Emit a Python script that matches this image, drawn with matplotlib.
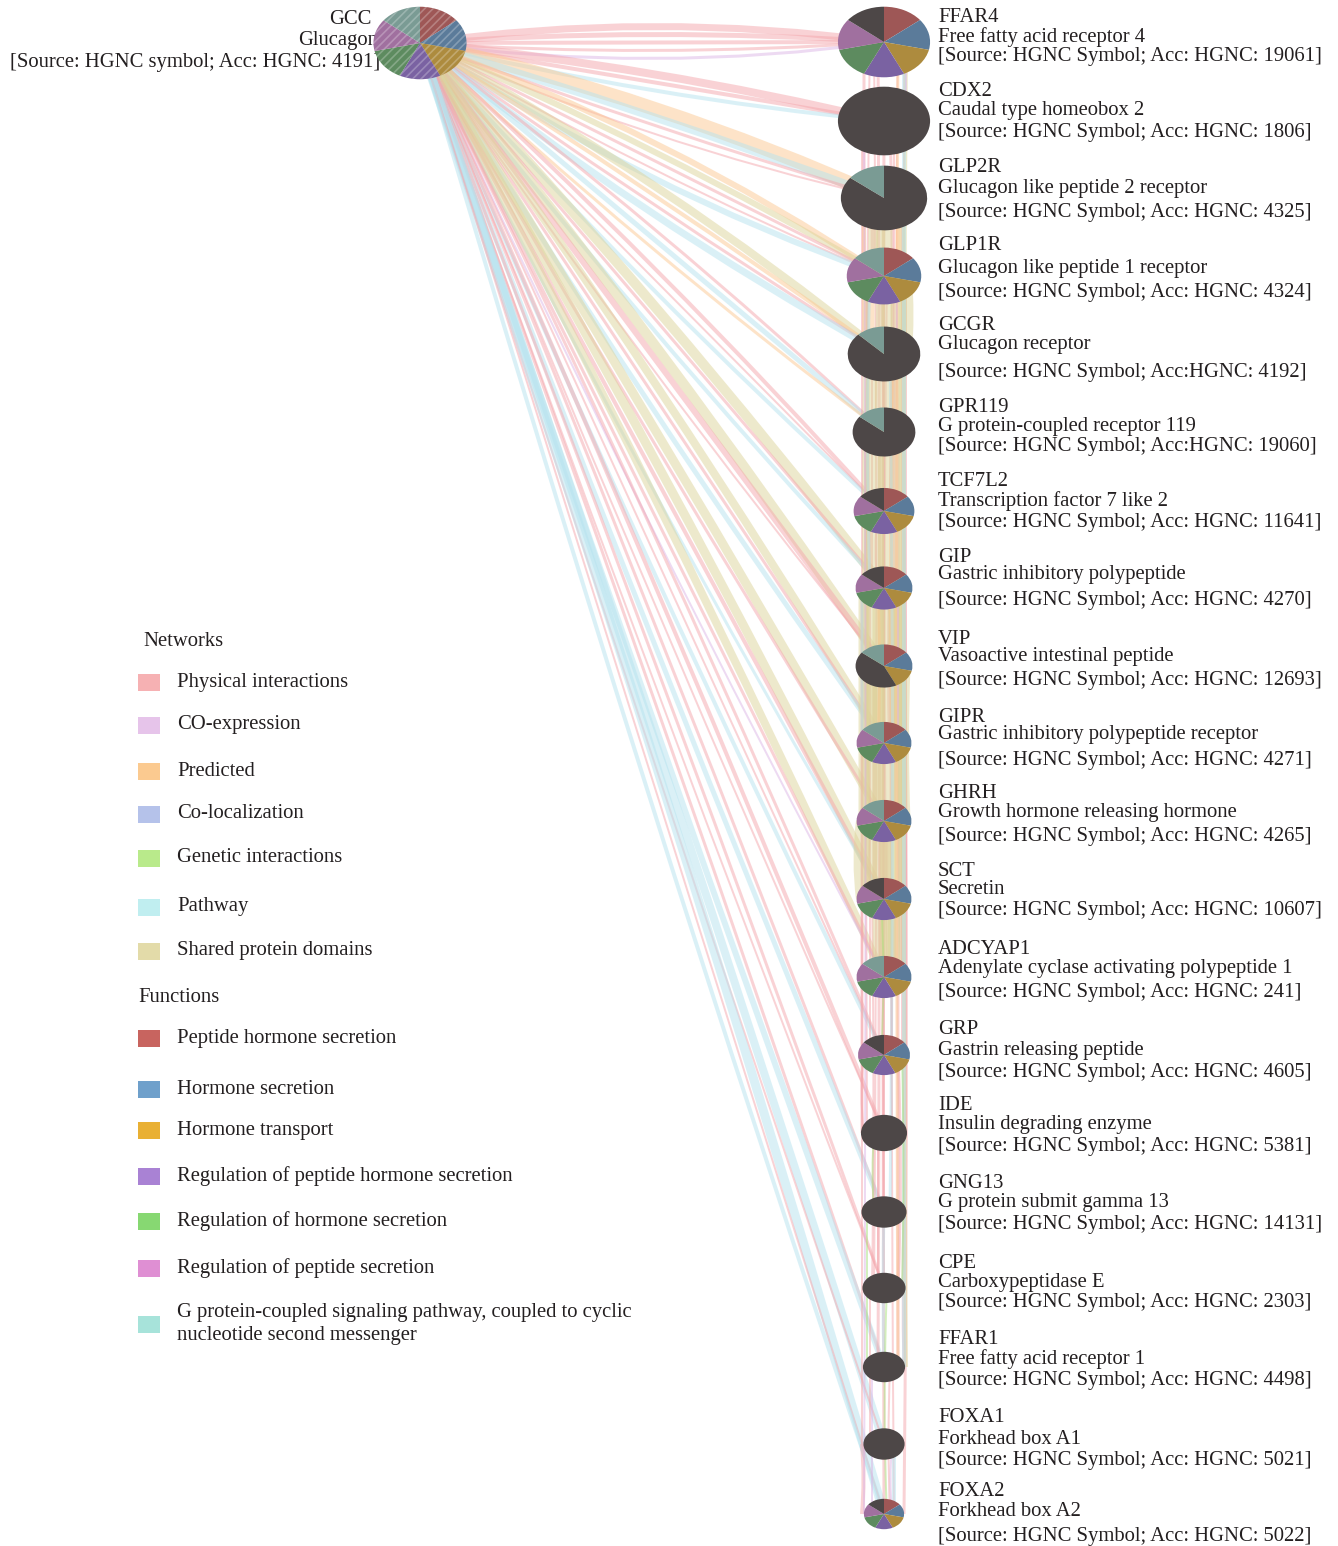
import numpy as np
import matplotlib
matplotlib.use("Agg")
import matplotlib.pyplot as plt
from matplotlib.path import Path
import matplotlib.patches as mpatches

plt.rcParams['font.family'] = ['Liberation Serif', 'DejaVu Serif']
plt.rcParams['hatch.linewidth'] = 1.2

W, H = 1338, 1546
FS = 14.9
TXT = '#231f20'

######################### DATA #########################
query_gene = 'GCC'
query_name = 'Glucagon'
query_source = '[Source: HGNC symbol; Acc: HGNC: 4191]'

genes = ['FFAR4', 'CDX2', 'GLP2R', 'GLP1R', 'GCGR', 'GPR119', 'TCF7L2', 'GIP', 'VIP', 'GIPR',
         'GHRH', 'SCT', 'ADCYAP1', 'GRP', 'IDE', 'GNG13', 'CPE', 'FFAR1', 'FOXA1', 'FOXA2']
gene_names = ['Free fatty acid receptor 4', 'Caudal type homeobox 2',
              'Glucagon like peptide 2 receptor', 'Glucagon like peptide 1 receptor',
              'Glucagon receptor', 'G protein-coupled receptor 119', 'Transcription factor 7 like 2',
              'Gastric inhibitory polypeptide', 'Vasoactive intestinal peptide',
              'Gastric inhibitory polypeptide receptor', 'Growth hormone releasing hormone',
              'Secretin', 'Adenylate cyclase activating polypeptide 1', 'Gastrin releasing peptide',
              'Insulin degrading enzyme', 'G protein submit gamma 13', 'Carboxypeptidase E',
              'Free fatty acid receptor 1', 'Forkhead box A1', 'Forkhead box A2']
gene_sources = ['[Source: HGNC Symbol; Acc: HGNC: 19061]', '[Source: HGNC Symbol; Acc: HGNC: 1806]',
                '[Source: HGNC Symbol; Acc: HGNC: 4325]', '[Source: HGNC Symbol; Acc: HGNC: 4324]',
                '[Source: HGNC Symbol; Acc:HGNC: 4192]', '[Source: HGNC Symbol; Acc:HGNC: 19060]',
                '[Source: HGNC Symbol; Acc: HGNC: 11641]', '[Source: HGNC Symbol; Acc: HGNC: 4270]',
                '[Source: HGNC Symbol; Acc: HGNC: 12693]', '[Source: HGNC Symbol; Acc: HGNC: 4271]',
                '[Source: HGNC Symbol; Acc: HGNC: 4265]', '[Source: HGNC Symbol; Acc: HGNC: 10607]',
                '[Source: HGNC Symbol; Acc: HGNC: 241]', '[Source: HGNC Symbol; Acc: HGNC: 4605]',
                '[Source: HGNC Symbol; Acc: HGNC: 5381]', '[Source: HGNC Symbol; Acc: HGNC: 14131]',
                '[Source: HGNC Symbol; Acc: HGNC: 2303]', '[Source: HGNC Symbol; Acc: HGNC: 4498]',
                '[Source: HGNC Symbol; Acc: HGNC: 5021]', '[Source: HGNC Symbol; Acc: HGNC: 5022]']

# function annotations shown as pie slices (clockwise from top)
ALL7 = ['pep', 'hsec', 'htr', 'rpep_h', 'rhs', 'rpep', 'gpcr']
ALL6 = ['pep', 'hsec', 'htr', 'rpep_h', 'rhs', 'rpep', 'none']
query_keys = ALL7
query_counts = [1, 1, 1, 1, 1, 1, 1]
pie_keys = [ALL6, ['none'], ['none', 'gpcr'], ALL7, ['none', 'gpcr'], ['none', 'gpcr'],
            ALL6, ALL6, ['pep', 'hsec', 'htr', 'none', 'gpcr'], ALL7,
            ALL7, ALL6, ALL7, ALL6, ['none'], ['none'], ['none'], ['none'], ['none'], ALL6]
pie_counts = [[1] * 7, [1], [6, 1], [1] * 7, [7, 1], [6, 1],
              [1] * 7, [1] * 7, [1, 1, 1, 3, 1], [1] * 7,
              [1] * 7, [1] * 7, [1] * 7, [1] * 7, [1], [1], [1], [1], [1], [1] * 7]

# network edges from the query gene: (target, network, width px)
query_edges = [
    ('FFAR4', 'phys', 7), ('FFAR4', 'phys', 5), ('FFAR4', 'phys', 4), ('FFAR4', 'phys', 3), ('FFAR4', 'coexp', 3),
    ('CDX2', 'phys', 8), ('CDX2', 'phys', 4), ('CDX2', 'path', 4),
    ('GLP2R', 'pred', 14), ('GLP2R', 'path', 8), ('GLP2R', 'phys', 3), ('GLP2R', 'phys', 2),
    ('GLP1R', 'pred', 6), ('GLP1R', 'shared', 6), ('GLP1R', 'phys', 3), ('GLP1R', 'phys', 2), ('GLP1R', 'path', 6),
    ('GCGR', 'shared', 8), ('GCGR', 'pred', 4), ('GCGR', 'phys', 3), ('GCGR', 'path', 7),
    ('GPR119', 'phys', 3), ('GPR119', 'path', 5), ('GPR119', 'pred', 3),
    ('TCF7L2', 'phys', 4), ('TCF7L2', 'phys', 2), ('TCF7L2', 'path', 4),
    ('GIP', 'shared', 10), ('GIP', 'phys', 3), ('GIP', 'path', 4),
    ('VIP', 'shared', 10), ('VIP', 'phys', 6), ('VIP', 'phys', 2),
    ('GIPR', 'shared', 8), ('GIPR', 'phys', 3), ('GIPR', 'path', 5),
    ('GHRH', 'shared', 9), ('GHRH', 'phys', 3),
    ('SCT', 'shared', 9), ('SCT', 'phys', 4), ('SCT', 'path', 3),
    ('ADCYAP1', 'shared', 8), ('ADCYAP1', 'phys', 3), ('ADCYAP1', 'coexp', 2),
    ('GRP', 'phys', 3), ('GRP', 'phys', 2), ('GRP', 'path', 4),
    ('IDE', 'phys', 4), ('IDE', 'phys', 2),
    ('GNG13', 'phys', 3), ('GNG13', 'path', 5),
    ('CPE', 'phys', 3), ('CPE', 'phys', 2),
    ('FFAR1', 'phys', 3), ('FFAR1', 'path', 6),
    ('FOXA1', 'path', 8), ('FOXA1', 'phys', 2),
    ('FOXA2', 'path', 9), ('FOXA2', 'phys', 2), ('FOXA2', 'path', 4),
]

# edges among the related genes: (gene a, gene b, network, width px)
gene_edges = [
    ('FFAR4', 'GLP1R', 'phys', 3), ('FFAR4', 'GPR119', 'phys', 2), ('FFAR4', 'FFAR1', 'phys', 3),
    ('FFAR4', 'GNG13', 'phys', 2), ('FFAR4', 'GIP', 'phys', 2), ('CDX2', 'TCF7L2', 'phys', 3),
    ('CDX2', 'FOXA1', 'phys', 2), ('CDX2', 'FOXA2', 'phys', 3), ('CDX2', 'GCGR', 'phys', 2),
    ('GLP2R', 'GLP1R', 'phys', 4), ('GLP1R', 'GCGR', 'phys', 4), ('GLP1R', 'GIPR', 'phys', 3),
    ('GLP1R', 'ADCYAP1', 'phys', 2), ('GLP1R', 'VIP', 'phys', 2), ('GLP1R', 'SCT', 'phys', 2),
    ('GCGR', 'GIPR', 'phys', 3), ('GCGR', 'GIP', 'phys', 2), ('GCGR', 'IDE', 'phys', 2),
    ('GPR119', 'GIP', 'phys', 2), ('GPR119', 'FFAR1', 'phys', 3), ('TCF7L2', 'GIP', 'phys', 2),
    ('TCF7L2', 'FOXA2', 'phys', 3), ('TCF7L2', 'GRP', 'phys', 2), ('GIP', 'GIPR', 'phys', 4),
    ('GIP', 'IDE', 'phys', 3), ('GIP', 'CPE', 'phys', 2), ('VIP', 'GHRH', 'phys', 3),
    ('VIP', 'SCT', 'phys', 3), ('VIP', 'ADCYAP1', 'phys', 4), ('GIPR', 'SCT', 'phys', 2),
    ('GHRH', 'SCT', 'phys', 3), ('GHRH', 'ADCYAP1', 'phys', 3), ('GHRH', 'IDE', 'phys', 2),
    ('SCT', 'ADCYAP1', 'phys', 3), ('SCT', 'CPE', 'phys', 2), ('ADCYAP1', 'GRP', 'phys', 2),
    ('GRP', 'IDE', 'phys', 2), ('GRP', 'CPE', 'phys', 3), ('IDE', 'CPE', 'phys', 2),
    ('GNG13', 'FFAR1', 'phys', 3), ('CPE', 'FOXA1', 'phys', 2), ('FFAR1', 'FOXA2', 'phys', 2),
    ('FOXA1', 'FOXA2', 'phys', 4), ('GLP1R', 'GNG13', 'phys', 2), ('GCGR', 'FOXA2', 'phys', 2),
    ('FFAR4', 'CPE', 'phys', 2), ('GLP2R', 'GRP', 'phys', 2), ('GLP1R', 'IDE', 'phys', 2),
    ('GLP2R', 'GCGR', 'shared', 11), ('GLP2R', 'GIPR', 'shared', 9), ('GLP1R', 'GCGR', 'shared', 12),
    ('GLP1R', 'GIPR', 'shared', 11), ('GCGR', 'GIPR', 'shared', 11), ('GIP', 'VIP', 'shared', 12),
    ('GIP', 'GHRH', 'shared', 11), ('GIP', 'SCT', 'shared', 11), ('GIP', 'ADCYAP1', 'shared', 11),
    ('VIP', 'GHRH', 'shared', 13), ('VIP', 'SCT', 'shared', 13), ('VIP', 'ADCYAP1', 'shared', 13),
    ('GHRH', 'SCT', 'shared', 12), ('GHRH', 'ADCYAP1', 'shared', 12), ('SCT', 'ADCYAP1', 'shared', 12),
    ('GLP2R', 'GLP1R', 'shared', 10), ('GLP2R', 'ADCYAP1', 'shared', 7), ('GLP1R', 'SCT', 'shared', 7),
    ('GCGR', 'VIP', 'shared', 8), ('GPR119', 'GHRH', 'shared', 6), ('FFAR4', 'FFAR1', 'shared', 4),
    ('GLP2R', 'GLP1R', 'pred', 5), ('GLP1R', 'GCGR', 'pred', 5), ('GCGR', 'GIPR', 'pred', 4),
    ('GLP2R', 'GCGR', 'pred', 4), ('FFAR4', 'FFAR1', 'pred', 3), ('GIP', 'GIPR', 'pred', 3),
    ('FFAR4', 'FFAR1', 'path', 4), ('GLP1R', 'GIP', 'path', 3), ('GCGR', 'GNG13', 'path', 3),
    ('GIPR', 'GIP', 'path', 3), ('GNG13', 'FFAR1', 'path', 3), ('FOXA1', 'FOXA2', 'path', 4),
    ('IDE', 'GNG13', 'gen', 2), ('GRP', 'CPE', 'gen', 2), ('GNG13', 'FFAR1', 'gen', 2),
    ('CPE', 'FOXA2', 'gen', 2), ('SCT', 'GRP', 'gen', 2),
    ('FFAR4', 'CDX2', 'coexp', 2), ('GCGR', 'GLP1R', 'coexp', 2), ('FFAR1', 'FOXA2', 'coexp', 2),
    ('FOXA1', 'FOXA2', 'coexp', 2), ('CDX2', 'FOXA2', 'coexp', 2), ('GIP', 'GIPR', 'coexp', 2),
]

network_keys = ['phys', 'coexp', 'pred', 'coloc', 'gen', 'path', 'shared']
network_labels = ['Physical interactions', 'CO-expression', 'Predicted', 'Co-localization',
                  'Genetic interactions', 'Pathway', 'Shared protein domains']
network_colors = ['#f6b1b3', '#e6c4ea', '#fbca90', '#b5c2ea', '#b9ea8b', '#c0eef0', '#e3dba9']
edge_colors = ['#f4a7ad', '#dcb6e6', '#fcc993', '#aab8e6', '#a9e27e', '#b6e3ef', '#ddd49a']

function_keys = ['pep', 'hsec', 'htr', 'rpep_h', 'rhs', 'rpep', 'gpcr']
function_labels = ['Peptide hormone secretion', 'Hormone secretion', 'Hormone transport',
                   'Regulation of peptide hormone secretion', 'Regulation of hormone secretion',
                   'Regulation of peptide secretion',
                   'G protein-coupled signaling pathway, coupled to cyclic\nnucleotide second messenger']
function_colors = ['#c8645f', '#6fa0cb', '#e9b034', '#a982d4', '#87d872', '#df8fd3', '#a7e3da']
# muted tones used inside the node pies
slice_colors = {'pep': '#9e5756', 'hsec': '#5b7b9a', 'htr': '#ad8b3e', 'rpep_h': '#7a62a2',
                'rhs': '#5d8b5f', 'rpep': '#a0709f', 'gpcr': '#7a9b94', 'none': '#4d4747'}

######################### LAYOUT #########################
query_xy = (420, 43)
query_wh = (95, 74)
col_x = 884
node_y = [42, 121, 198, 276, 354, 432, 511, 588, 666, 743,
          821, 899, 977, 1055, 1133, 1212, 1288, 1367, 1444, 1514]
node_w = [94, 94, 88, 76, 74, 64, 62, 58, 58, 56, 56, 56, 56, 53, 47, 46, 44, 43, 42, 41]
node_h = [72, 70, 66, 58, 56, 50, 47, 44, 44, 43, 43, 43, 43, 41, 37, 32, 31, 31, 32, 31]
label_y = [(18, 37, 57), (92, 111, 133), (168, 189, 213), (245, 268, 292), (326, 345, 372),
           (407, 426, 447), (482, 501, 522), (558, 575, 600), (640, 657, 680), (717, 735, 760),
           (794, 813, 837), (871, 889, 910), (949, 969, 992), (1029, 1050, 1073), (1106, 1124, 1147),
           (1184, 1202, 1225), (1263, 1282, 1303), (1339, 1359, 1381), (1418, 1439, 1461),
           (1491, 1511, 1536)]
label_x = 938
net_y = [682, 725, 771, 814, 858, 907, 951]
fun_y = [1038, 1089, 1130, 1176, 1221, 1268, 1324]

fig = plt.figure(figsize=(W / 100, H / 100), dpi=100)
ax = fig.add_axes([0, 0, 1, 1])
ax.set_xlim(0, W)
ax.set_ylim(H, 0)
ax.axis('off')

pos = {g: (col_x, y) for g, y in zip(genes, node_y)}
pos[query_gene] = query_xy
ecol = dict(zip(network_keys, edge_colors))


def draw_edge(p0, p1, bend, color, width, alpha=0.5):
    (x0, y0), (x1, y1) = p0, p1
    L = np.hypot(x1 - x0, y1 - y0)
    nx, ny = -(y1 - y0) / L, (x1 - x0) / L
    ctrl = ((x0 + x1) / 2 + nx * bend, (y0 + y1) / 2 + ny * bend)
    path = Path([p0, ctrl, p1], [Path.MOVETO, Path.CURVE3, Path.CURVE3])
    ax.add_patch(mpatches.PathPatch(path, fill=False, ec=color, lw=width * 0.72,
                                    alpha=alpha, capstyle='butt', zorder=1))


# fan of edges leaving the query gene
for g in genes:
    group = [e for e in query_edges if e[0] == g]
    n = len(group)
    for k, (tgt, net, w) in enumerate(group):
        bend = (k - (n - 1) / 2) * 16
        draw_edge(query_xy, pos[tgt], bend, ecol[net], w)

# bundle of edges between the related genes, spread across the column
shifts = [-20, 14, -6, 20, -14, 6, -22, 0, 10, -10, 18, -17, 3, -3, 22, 12, -12, 8]
bends = [0, 3, -3, 0, 5, -5, 0, 2]
for k, (a, b, net, w) in enumerate(gene_edges):
    d = shifts[k % len(shifts)]
    (xa, ya), (xb, yb) = pos[a], pos[b]
    draw_edge((xa + d, ya), (xb + d, yb), bends[k % len(bends)], ecol[net], w, alpha=0.5)


def draw_pie(cx, cy, w, h, keys, counts, hatch=None):
    pax = fig.add_axes([(cx - w / 2) / W, 1 - (cy + h / 2) / H, w / W, h / H])
    wedges, _ = pax.pie(counts, colors=[slice_colors[k] for k in keys], startangle=90,
                        counterclock=False, wedgeprops=dict(linewidth=0))
    if hatch:
        for wd in wedges:
            wd.set_hatch(hatch)
            wd.set_edgecolor((1, 1, 1, 0.25))
    pax.set_xlim(-1.02, 1.02)
    pax.set_ylim(-1.02, 1.02)
    pax.set_aspect('auto')
    pax.axis('off')


draw_pie(query_xy[0], query_xy[1], query_wh[0], query_wh[1], query_keys, query_counts, hatch='////')
for i, g in enumerate(genes):
    draw_pie(col_x, node_y[i], node_w[i], node_h[i], pie_keys[i], pie_counts[i])

# node labels
ax.text(372, 20, query_gene, ha='right', va='center', fontsize=FS, color=TXT)
ax.text(378, 40, query_name, ha='right', va='center', fontsize=FS, color=TXT)
ax.text(380, 62, query_source, ha='right', va='center', fontsize=FS, color=TXT)
for i, g in enumerate(genes):
    for line, yy in zip([g, gene_names[i], gene_sources[i]], label_y[i]):
        ax.text(label_x, yy, line, ha='left', va='center', fontsize=FS, color=TXT)

# legend
ax.text(143, 641, 'Networks', ha='left', va='center', fontsize=FS, color=TXT)
for lab, c, yy in zip(network_labels, network_colors, net_y):
    ax.add_patch(mpatches.Rectangle((138, yy - 8.5), 22, 17, fc=c, ec='none'))
    ax.text(177, yy, lab, ha='left', va='center', fontsize=FS, color=TXT)
ax.text(138, 997, 'Functions', ha='left', va='center', fontsize=FS, color=TXT)
for lab, c, yy in zip(function_labels, function_colors, fun_y):
    ax.add_patch(mpatches.Rectangle((138, yy - 8.5), 22, 17, fc=c, ec='none'))
    ax.text(177, yy, lab, ha='left', va='center', fontsize=FS, color=TXT, linespacing=1.25)

fig.savefig('out.png', dpi=100)
